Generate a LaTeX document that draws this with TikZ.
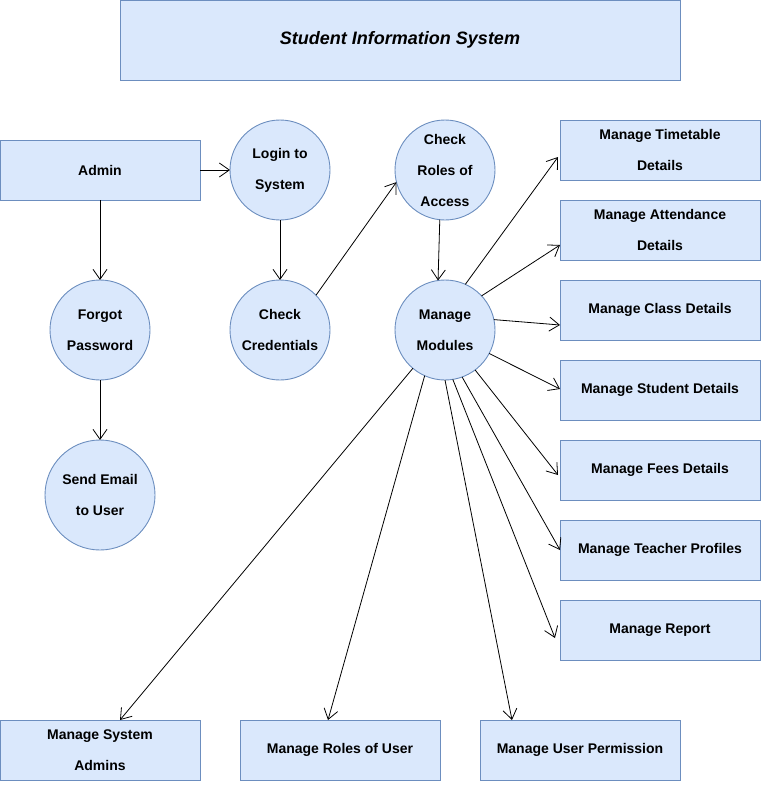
\documentclass[tikz,border=0pt]{standalone}
\usepackage{fontspec}
\setmainfont{Liberation Sans}
\usetikzlibrary{arrows.meta,calc}
\definecolor{boxfill}{HTML}{DAE8FC}
\definecolor{boxdraw}{HTML}{6C8EBF}
\tikzset{
  lbl/.style={font=\fontsize{14}{31}\selectfont\bfseries, align=center, text=black,
    execute at begin node={\vspace*{5pt}}},
  boxnode/.style={lbl, rectangle, draw=boxdraw, fill=boxfill, line width=0.9pt,
    minimum width=200pt, minimum height=60pt, inner sep=0pt, outer sep=0pt},
  circnode/.style={lbl, circle, draw=boxdraw, fill=boxfill, line width=0.9pt,
    minimum size=100pt, inner sep=0pt, outer sep=0pt},
  conn/.style={draw=black, line width=0.8pt, -{Straight Barb[length=10pt,width=14pt,line width=0.8pt]}}
}
\begin{document}
\begin{tikzpicture}[x=1pt,y=-1pt]
\useasboundingbox (0,0) rectangle (761,789);
% title
\node[boxnode, minimum width=560pt, minimum height=80pt,
  font=\fontsize{18}{20}\selectfont\bfseries\itshape] (title) at (400,40) {Student Information System};
% left part
\node[boxnode] (admin) at (100,170) {Admin};
\node[circnode] (login) at (280,170) {Login to\\System};
\node[circnode] (forgot) at (100,330) {Forgot\\Password};
\node[circnode, minimum size=110pt] (email) at (100,495) {Send Email\\to User};
\node[circnode] (cred) at (280,330) {Check\\Credentials};
\node[circnode] (roles) at (445,170) {Check\\Roles of\\Access};
\node[circnode] (mm) at (445,330) {Manage\\Modules};
% right boxes
\node[boxnode] (tt) at (660,150) {Manage Timetable\\Details};
\node[boxnode] (att) at (660,230) {Manage Attendance\\Details};
\node[boxnode] (cls) at (660,310) {Manage Class Details};
\node[boxnode] (stu) at (660,390) {Manage Student Details};
\node[boxnode] (fee) at (660,470) {Manage Fees Details};
\node[boxnode] (tea) at (660,550) {Manage Teacher Profiles};
\node[boxnode] (rep) at (660,630) {Manage Report};
% bottom boxes
\node[boxnode] (sys) at (100,750) {Manage System\\Admins};
\node[boxnode] (rou) at (340,750) {Manage Roles of User};
\node[boxnode] (per) at (580,750) {Manage User Permission};
% connectors
\draw[conn] (admin.east) -- (login.west);
\draw[conn] (admin.south) -- (forgot.north);
\draw[conn] (forgot.south) -- (email.north);
\draw[conn] (login.south) -- (cred.north);
\draw[conn] (cred.44) -- (roles.194);
\draw[conn] (roles.-96) -- (mm.98);
\draw[conn] (mm.66) -- ($(tt.west)+(-2,7)$);
\draw[conn] (mm.43) -- ($(att.west)+(0,15)$);
\draw[conn] (mm.12) -- ($(cls.west)+(0,15)$);
\draw[conn] (mm.-28) -- ($(stu.west)+(0,-1)$);
\draw[conn] (mm.-53) -- ($(fee.west)+(-2,5)$);
\draw[conn] (mm.-70) -- (tea.west);
\draw[conn] (mm.-81) -- ($(rep.west)+(-5,8)$);
\draw[conn] (mm.230) -- ($(sys.north)+(20,0)$);
\draw[conn] (mm.246) -- ($(rou.north)+(-12,0)$);
\draw[conn] (mm.270) -- ($(per.north west)+(32,0)$);
\end{tikzpicture}
\end{document}
